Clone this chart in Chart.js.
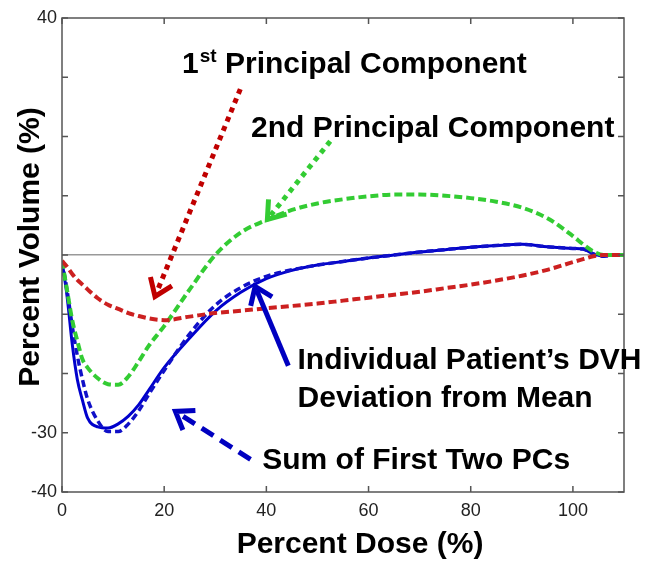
<!DOCTYPE html>
<html>
<head>
<meta charset="utf-8">
<script src="https://cdn.jsdelivr.net/npm/chart.js@4/dist/chart.umd.min.js"></script>
<style>
  html, body { margin: 0; padding: 0; background: #fff; }
  #wrap { width: 655px; height: 565px; }
</style>
</head>
<body>
<div id="wrap"><canvas id="c"></canvas></div>
<script>
// percent dose sample points (x)
const dose = [0,1,2,3,4,5,7,9,11,13,15,17,20,25,30,35,40,45,50,55,60,65,70,75,80,85,90,95,100,102,104,106,108,110]
// 1st principal component (red)
const pc1 = [-1,-2,-3.2,-4.2,-5,-5.8,-7.3,-8.4,-9.1,-9.8,-10.3,-10.7,-11,-10.4,-9.8,-9.4,-9,-8.6,-8.2,-7.7,-7.2,-6.7,-6.2,-5.6,-5,-4.3,-3.5,-2.5,-1.2,-0.7,-0.2,0,0,0]
// 2nd principal component (green)
const pc2 = [-1,-6,-11,-14.5,-17.6,-19,-20.8,-21.8,-21.9,-20.5,-18,-15.3,-12,-5.8,0,3.8,5.9,7.6,8.7,9.4,9.9,10.2,10.2,10,9.6,9,8,6.2,3.2,1.8,0.6,0,0,0]
// individual patient DVH deviation (blue solid)
const patient = [-1,-7,-15,-21,-24.5,-27.5,-29,-29.2,-28.5,-27.2,-25.3,-22.8,-19,-14,-9.5,-6.3,-4,-2.6,-1.7,-1.1,-0.5,0,0.5,0.9,1.3,1.6,1.8,1.4,1.1,1,0.2,-0.2,0,0]
// sum of first two PCs (blue dashed)
const sumPCs = [-1,-6,-12,-17,-21,-24.3,-28,-29.8,-29.8,-28.5,-26.3,-23.5,-19.5,-13.3,-8.5,-5.5,-3.6,-2.5,-1.7,-1.1,-0.5,0,0.5,0.9,1.3,1.6,1.8,1.4,1.1,1,0.2,-0.2,0,0]

const xTickLabels = [0,20,40,60,80,100]
const yTickLabels = [40,-30,-40]

const FONT = '"Liberation Sans", Arial, sans-serif'

const pts = (arr) => arr.map((v, i) => ({x: dose[i], y: v}))

// annotations in data coordinates
const notes = [
  {text: 'Individual Patient\u2019s DVH', x: 46.1, y: -19.3},
  {text: 'Deviation from Mean', x: 46.1, y: -25.6},
  {text: '2nd Principal Component', x: 37.0, y: 20.0},
  {text: 'Sum of First Two PCs', x: 39.2, y: -36.2},
]
const arrows = [
  {from: [34.9, 28.0], to: [18.2, -7.0], color: '#c00000', dash: [5, 5]},
  {from: [52.5, 19.2], to: [40.2, 6.0], color: '#33cc33', dash: [5, 5]},
  {from: [44.3, -18.7], to: [37.8, -5.3], color: '#0000c0', dash: []},
  {from: [36.9, -34.5], to: [22.2, -26.4], color: '#0000c0', dash: [14, 8]},
]

const drawArrow = (ctx, x0, y0, x1, y1, color, dash) => {
  ctx.save()
  ctx.strokeStyle = color
  ctx.lineWidth = 5
  ctx.lineCap = 'butt'
  ctx.setLineDash(dash)
  const ang = Math.atan2(y1 - y0, x1 - x0)
  ctx.beginPath()
  ctx.moveTo(x0, y0)
  ctx.lineTo(x1 - Math.cos(ang) * 4, y1 - Math.sin(ang) * 4)
  ctx.stroke()
  ctx.setLineDash([])
  const L = 20, a = 0.62
  ctx.beginPath()
  ctx.moveTo(x1 - L * Math.cos(ang - a), y1 - L * Math.sin(ang - a))
  ctx.lineTo(x1, y1)
  ctx.lineTo(x1 - L * Math.cos(ang + a), y1 - L * Math.sin(ang + a))
  ctx.stroke()
  ctx.restore()
}

const framePlugin = {
  id: 'frame',
  afterDatasetsDraw(chart) {
    const {ctx, chartArea: a, scales: {x, y}} = chart
    ctx.save()
    // box
    ctx.strokeStyle = '#555'
    ctx.lineWidth = 1.5
    ctx.strokeRect(a.left, a.top, a.right - a.left, a.bottom - a.top)
    // inward ticks
    ctx.beginPath()
    y.ticks.forEach(t => {
      const py = y.getPixelForValue(t.value)
      ctx.moveTo(a.left, py); ctx.lineTo(a.left + 6, py)
      ctx.moveTo(a.right, py); ctx.lineTo(a.right - 6, py)
    })
    xTickLabels.forEach(v => {
      const px = x.getPixelForValue(v)
      ctx.moveTo(px, a.bottom); ctx.lineTo(px, a.bottom - 6)
      ctx.moveTo(px, a.top); ctx.lineTo(px, a.top + 6)
    })
    ctx.stroke()

    // arrows
    arrows.forEach(ar => {
      drawArrow(ctx, x.getPixelForValue(ar.from[0]), y.getPixelForValue(ar.from[1]),
        x.getPixelForValue(ar.to[0]), y.getPixelForValue(ar.to[1]), ar.color, ar.dash)
    })

    // texts
    ctx.fillStyle = '#000'
    ctx.textBaseline = 'alphabetic'
    ctx.textAlign = 'left'
    ctx.font = 'bold 30px ' + FONT
    notes.forEach(n => {
      ctx.fillText(n.text, x.getPixelForValue(n.x), y.getPixelForValue(n.y))
    })
    // 1st with superscript
    let px = x.getPixelForValue(23.5), py = y.getPixelForValue(30.8)
    ctx.fillText('1', px, py)
    px += ctx.measureText('1').width + 1
    ctx.font = 'bold 19px ' + FONT
    ctx.fillText('st', px, py - 11)
    px += ctx.measureText('st').width
    ctx.font = 'bold 30px ' + FONT
    ctx.fillText(' Principal Component', px, py)

    // axis titles
    ctx.textAlign = 'center'
    ctx.textBaseline = 'middle'
    ctx.fillText('Percent Dose (%)', 360, 545)
    ctx.translate(31, 247)
    ctx.rotate(-Math.PI / 2)
    ctx.fillText('Percent Volume (%)', 0, 0)
    ctx.restore()
  }
}

new Chart(document.getElementById('c'), {
  type: 'line',
  data: {
    datasets: [
      {
        label: '1st Principal Component',
        data: pts(pc1),
        borderColor: '#cc2020',
        borderWidth: 4,
        borderDash: [8, 4],
      },
      {
        label: '2nd Principal Component',
        data: pts(pc2),
        borderColor: '#33cc33',
        borderWidth: 4,
        borderDash: [8, 4],
      },
      {
        label: 'Sum of First Two PCs',
        data: pts(sumPCs),
        borderColor: '#1010c8',
        borderWidth: 3.5,
        borderDash: [7, 4],
      },
      {
        label: 'Individual Patient DVH Deviation',
        data: pts(patient),
        borderColor: '#0000cc',
        borderWidth: 3,
      },
    ]
  },
  options: {
    responsive: true,
    maintainAspectRatio: false,
    animation: false,
    elements: {point: {radius: 0}, line: {cubicInterpolationMode: 'monotone'}},
    layout: {padding: {top: 18, right: 31, left: 0, bottom: 0}},
    plugins: {legend: {display: false}, tooltip: {enabled: false}},
    scales: {
      x: {
        type: 'linear',
        min: 0,
        max: 110,
        afterFit: (s) => { s.height = 73 },
        border: {display: false},
        grid: {display: false, drawTicks: false},
        ticks: {
          stepSize: 20,
          padding: 8,
          color: '#222',
          font: {family: FONT, size: 18},
          callback: (v) => xTickLabels.includes(v) ? v : '',
        },
      },
      y: {
        min: -40,
        max: 40,
        afterFit: (s) => { s.width = 62 },
        border: {display: false},
        grid: {
          drawTicks: false,
          lineWidth: 1.5,
          color: (c) => c.tick && c.tick.value === 0 ? '#999' : 'rgba(0,0,0,0)',
        },
        ticks: {
          stepSize: 10,
          padding: 5,
          color: '#222',
          font: {family: FONT, size: 18},
          callback: (v) => yTickLabels.includes(v) ? v : '',
        },
      }
    }
  },
  plugins: [framePlugin]
})
</script>
</body>
</html>
